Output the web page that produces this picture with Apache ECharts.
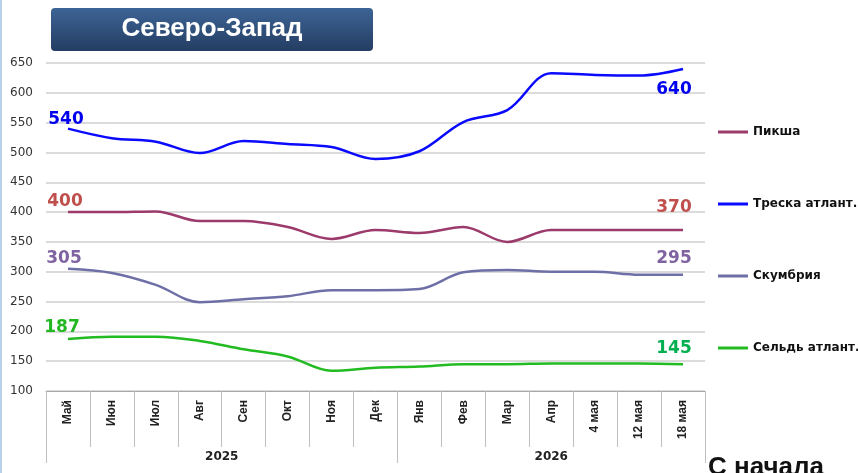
<!DOCTYPE html>
<html>
<head>
<meta charset="utf-8">
<script src="https://cdn.jsdelivr.net/npm/echarts@6/dist/echarts.min.js"></script>
<style>
  html, body { margin: 0; padding: 0; background: #fff; }
  #chart { width: 858px; height: 473px; }
</style>
</head>
<body>
<div id="chart"></div>
<script>
// категории (месяцы / даты)
var categories = ['Май', 'Июн', 'Июл', 'Авг', 'Сен', 'Окт', 'Ноя', 'Дек',
    'Янв', 'Фев', 'Мар', 'Апр', '4 мая', '12 мая', '18 мая'];
var years = ['2025', '2026'];
var yearCenters = [4, 11.5];   // середина группы в категориях
var yearBounds = [0, 8, 15];   // границы групп

var piksha = [400, 400, 401, 385, 385, 375, 355, 370, 365, 375, 350, 370, 370, 370, 370];
var treska = [540, 524, 518, 499, 519, 514, 509, 489, 502, 551, 571, 633, 630, 629, 640];
var skumbria = [305, 298, 278, 249, 254, 259, 269, 269, 271, 299, 303, 300, 300, 295, 295];
var seld = [187, 191, 191, 184, 170, 158, 134, 139, 141, 145, 145, 146, 146, 146, 145];

var chart = echarts.init(document.getElementById('chart'));

// подпись только у первой и последней точки
function withEndLabels(arr, colors, firstOff, lastOff) {
    return arr.map(function (v, i) {
        if (i === 0 || i === arr.length - 1) {
            return {
                value: v,
                label: {
                    show: true,
                    position: 'top',
                    offset: i === 0 ? firstOff : lastOff,
                    color: i === 0 ? colors[0] : colors[1],
                    fontFamily: 'DejaVu Sans',
                    fontWeight: 'bold',
                    fontSize: 17
                }
            };
        }
        return v;
    });
}

function lineSeries(name, data, color, labelColors, firstOff, lastOff) {
    return {
        name: name,
        type: 'line',
        smooth: 0.35,
        symbol: 'circle',
        symbolSize: 0,
        showAllSymbol: true,
        lineStyle: { color: color, width: 2.5 },
        itemStyle: { color: color },
        data: withEndLabels(data, labelColors, firstOff, lastOff)
    };
}

var option = {
    backgroundColor: '#fff',
    animation: false,
    graphic: [
        {
            type: 'rect',
            left: 0, top: 0,
            shape: { width: 2, height: 473 },
            style: { fill: '#b8d0ea' }
        },
        {
            type: 'rect',
            left: 51, top: 8,
            shape: { width: 322, height: 43, r: 4 },
            style: {
                fill: new echarts.graphic.LinearGradient(0, 0, 0, 1, [
                    { offset: 0, color: '#3d6496' },
                    { offset: 1, color: '#243d62' }
                ])
            }
        },
        {
            type: 'text',
            x: 212, y: 29,
            style: {
                text: 'Северо-Запад',
                fill: '#fff',
                align: 'center',
                verticalAlign: 'middle',
                font: 'bold 26px "Liberation Sans", Arial'
            }
        },
        {
            type: 'text',
            left: 708, top: 455,
            style: {
                text: 'С начала',
                fill: '#111',
                font: 'bold 26px "Liberation Sans", Arial'
            }
        }
    ],
    legend: {
        orient: 'vertical',
        left: 713,
        top: 121,
        itemGap: 60,
        itemWidth: 30,
        itemHeight: 3,
        icon: 'rect',
        textStyle: {
            color: '#111',
            fontFamily: 'DejaVu Sans',
            fontWeight: 'bold',
            fontSize: 12
        },
        data: ['Пикша', 'Треска атлант.', 'Скумбрия', 'Сельдь атлант.']
    },
    grid: {
        left: 46,
        right: 153,
        top: 63,
        bottom: 82
    },
    xAxis: [{
        type: 'category',
        boundaryGap: true,
        data: categories,
        axisLine: { lineStyle: { color: '#a8a8a8', width: 1 } },
        axisTick: {
            show: true,
            interval: 0,
            length: 56,
            lineStyle: { color: '#c0c0c0' }
        },
        axisLabel: {
            interval: 0,
            rotate: 90,
            margin: 9,
            color: '#222',
            fontFamily: '"Liberation Sans", Arial',
            fontWeight: 'bold',
            fontSize: 12
        }
    }, {
        type: 'value',
        position: 'bottom',
        min: 0,
        max: 15,
        axisLine: { show: false },
        splitLine: { show: false },
        axisTick: {
            show: true,
            customValues: yearBounds,
            length: 72,
            lineStyle: { color: '#c0c0c0' }
        },
        axisLabel: {
            customValues: yearCenters,
            margin: 60,
            color: '#222',
            fontFamily: 'DejaVu Sans',
            fontWeight: 'bold',
            fontSize: 12,
            formatter: function (v) {
                return years[yearCenters.indexOf(v)];
            }
        }
    }],
    yAxis: {
        type: 'value',
        min: 100,
        max: 650,
        interval: 50,
        axisLine: { show: false },
        axisTick: { show: false },
        splitLine: { lineStyle: { color: '#cfcfcf', width: 1.5 } },
        axisLabel: {
            margin: 13,
            color: '#333',
            fontFamily: 'DejaVu Sans',
            fontSize: 12
        }
    },
    series: [
        lineSeries('Пикша', piksha, '#9b3a6b', ['#c0504d', '#c0504d'], [-3, 3], [-9, -9]),
        lineSeries('Треска атлант.', treska, '#0a0aff', ['#0000ee', '#0000ee'], [-2, 4], [-9, 34]),
        lineSeries('Скумбрия', skumbria, '#6f6fa8', ['#8064a2', '#8064a2'], [-4, 3], [-9, -3]),
        lineSeries('Сельдь атлант.', seld, '#22bb22', ['#22b822', '#00b050'], [-6, 2], [-9, -2])
    ]
};

chart.setOption(option);
</script>
</body>
</html>
